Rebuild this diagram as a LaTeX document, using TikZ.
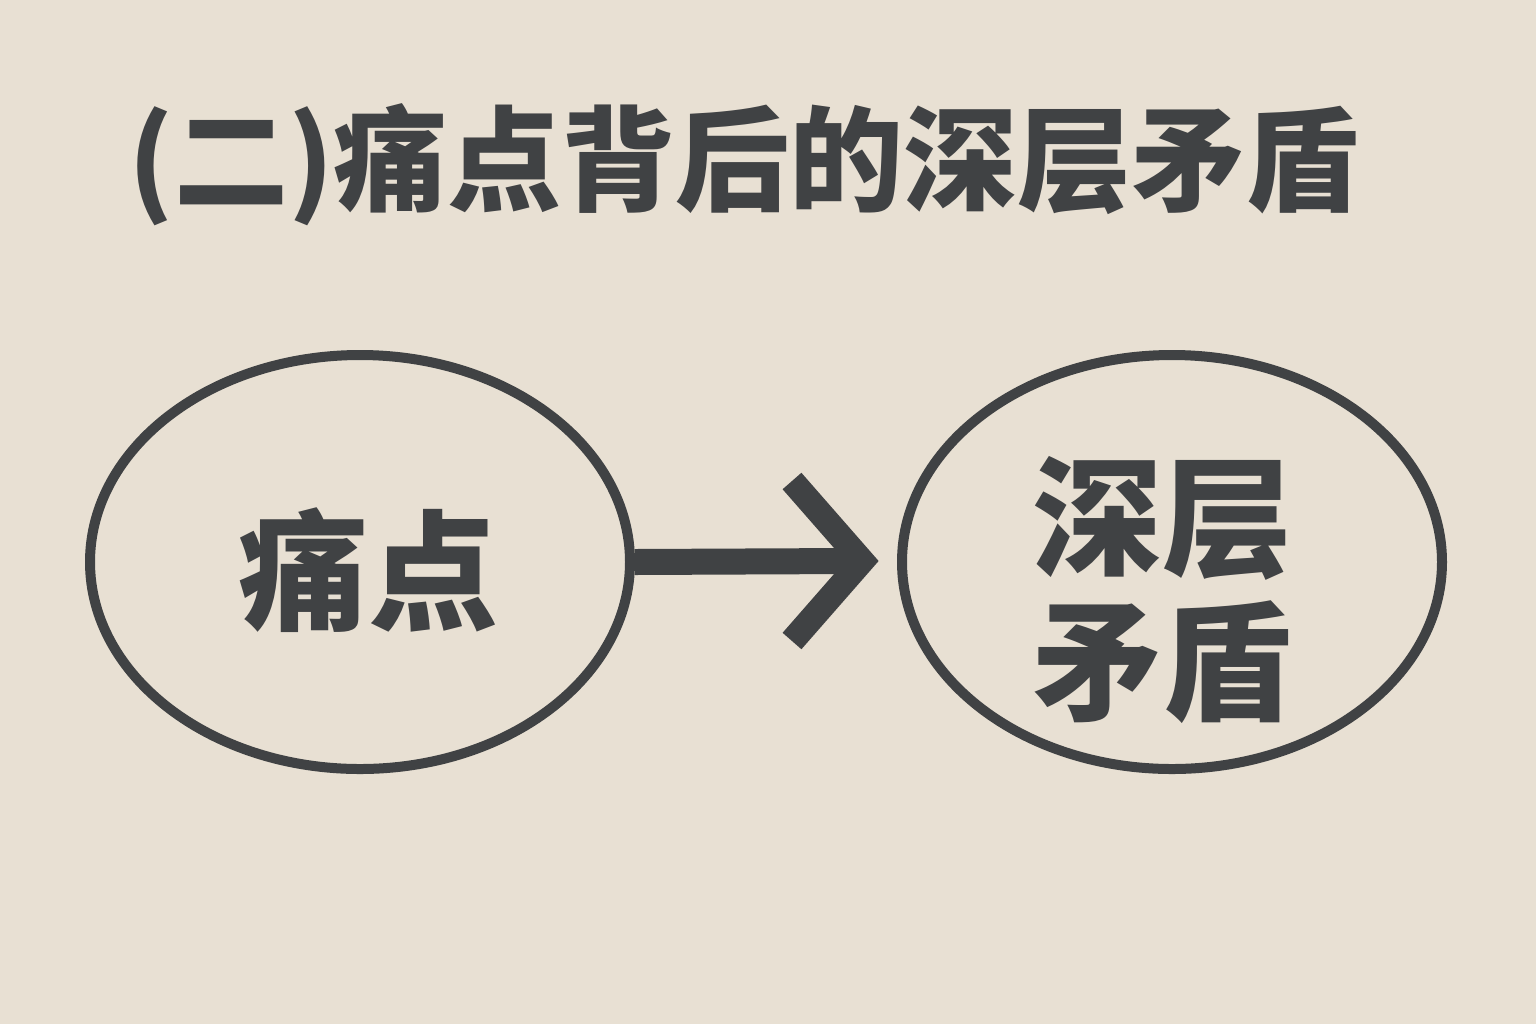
\documentclass[tikz,border=0pt]{standalone}
\usepackage{fontspec}
\usepackage{tikz}
\usetikzlibrary{shapes,arrows}
\usepackage{xcolor}
\newfontfamily\cjk{Noto Sans CJK SC}
\definecolor{paper}{HTML}{E8E0D3}
\definecolor{ink}{HTML}{404244}

\begin{document}
\begin{tikzpicture}[x=0.5pt,y=-0.5pt]
\tikzstyle{every node}+=[inner sep=0pt, text=ink]
\tikzstyle{bubble}=[ellipse, draw=ink, line width=5pt, minimum width=270pt, minimum height=207pt]
\tikzstyle{word}=[font=\cjk\bfseries\fontsize{65}{72}\selectfont, align=center]
\fill [paper] (0,0) rectangle (1536,1024);
\useasboundingbox (0,0) rectangle (1536,1024);
\node (title) at (744,165) {\cjk\bfseries\fontsize{57}{60}\selectfont (二)痛点背后的深层矛盾};
\node [bubble] (pain) at (360,562) {};
\node [word] (painText) at (368,570) {痛点};
\node [bubble] (deep) at (1172,562) {};
\node [word] (deepText) at (1162,590) {深层\\矛盾};
\coordinate (tip) at (862,561);
\draw [ink, line width=13pt] (pain.east) -- ([shift={(-12,0)}]tip);
\draw [ink, line width=12.5pt, miter limit=10] ([shift={(-70,-80)}]tip) -- (tip) -- ([shift={(-70,80)}]tip);
\end{tikzpicture}
\end{document}
